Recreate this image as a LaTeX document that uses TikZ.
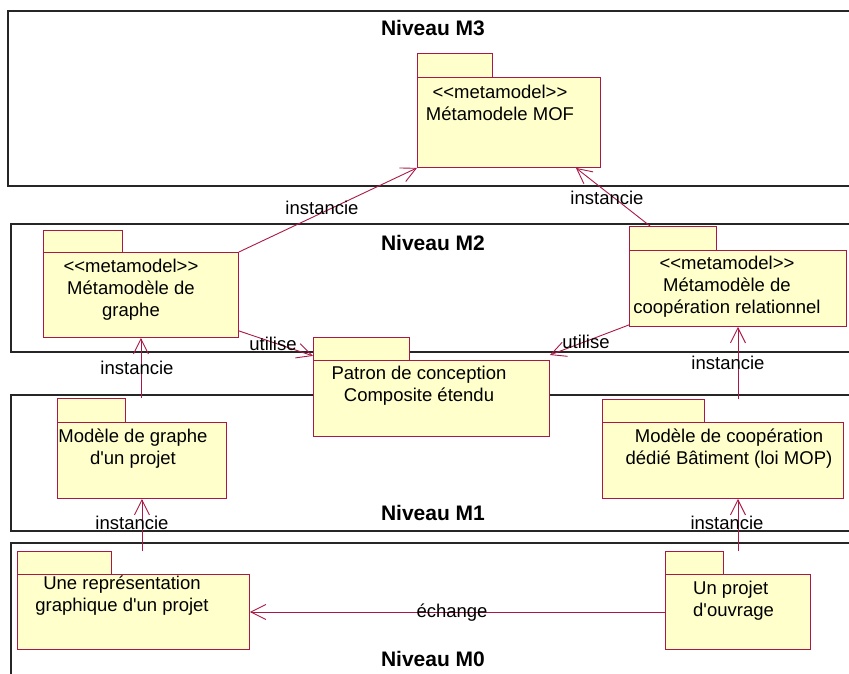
\documentclass[tikz,border=0pt]{standalone}
\usepackage{fontspec}
\usepackage{tikz}
\usetikzlibrary{arrows.meta}
\newfontfamily\umlfont{Liberation Sans}
\definecolor{umlred}{RGB}{170,25,70}
\definecolor{umlyellow}{RGB}{255,255,204}

\tikzset{
  level/.style={draw=black!85, line width=1.3pt},
  pkgtab/.style={draw=umlred, fill=umlyellow, line width=0.9pt, anchor=north west, inner sep=0pt},
  pkgbody/.style={draw=umlred, fill=umlyellow, line width=0.9pt, anchor=north west, inner sep=0pt},
  pkgtext/.style={align=center, inner sep=0pt, font=\umlfont\fontsize{18.5}{22}\selectfont},
  rel/.style={draw=umlred, line width=0.9pt, -{Straight Barb[length=15pt,width=15pt]}},
  lbl/.style={inner sep=0pt, font=\umlfont\fontsize{18.5}{22}\selectfont},
  title/.style={inner sep=0pt, font=\umlfont\bfseries\fontsize{21}{24}\selectfont},
}

\begin{document}
\begin{tikzpicture}[x=1pt, y=-1pt]
    \useasboundingbox (0, 0) rectangle (849, 673);
    % levels
    \draw[level] (8, 11) rectangle (870, 186);
    \draw[level] (11, 224) rectangle (870, 352);
    \draw[level] (11, 395) rectangle (870, 531);
    \draw[level] (11, 543) rectangle (870, 700);
    \node[title] (n3) at (433, 28) {Niveau M3};
    \node[title] (n2) at (433, 243) {Niveau M2};
    \node[title] (n1) at (433, 513) {Niveau M1};
    \node[title] (n0) at (433, 659) {Niveau M0};
    % M3 package
    \node[pkgtab, minimum width=75, minimum height=24] (moftab) at (417, 53) {};
    \node[pkgbody, minimum width=183, minimum height=90] (mof) at (417, 77) {};
    \node[pkgtext] (moftxt) at (500, 103) {{<}{<}metamodel{>}{>}\\Métamodele MOF};
    % M2 packages
    \node[pkgtab, minimum width=79, minimum height=22] (gmtab) at (43, 230) {};
    \node[pkgbody, minimum width=195, minimum height=85] (gm) at (43, 252) {};
    \node[pkgtext] (gmtxt) at (131, 290) {{<}{<}metamodel{>}{>}\\Métamodèle de\\graphe};
    \node[pkgtab, minimum width=87, minimum height=24] (cmtab) at (629, 226) {};
    \node[pkgbody, minimum width=217, minimum height=76] (cm) at (629, 250) {};
    \node[pkgtext] (cmtxt) at (727, 287) {{<}{<}metamodel{>}{>}\\Métamodèle de\\coopération relationnel};
    \node[pkgtab, minimum width=96, minimum height=23] (pctab) at (313, 337) {};
    \node[pkgbody, minimum width=236, minimum height=76] (pc) at (313, 360) {};
    \node[pkgtext] (pctxt) at (419, 386) {Patron de conception\\Composite étendu};
    % M1 packages
    \node[pkgtab, minimum width=68, minimum height=24] (mgtab) at (57, 398) {};
    \node[pkgbody, minimum width=169, minimum height=76] (mg) at (57, 422) {};
    \node[pkgtext] (mgtxt) at (133, 449) {Modèle de graphe\\d'un projet};
    \node[pkgtab, minimum width=102, minimum height=23] (cdtab) at (602, 399) {};
    \node[pkgbody, minimum width=241, minimum height=76] (cd) at (602, 422) {};
    \node[pkgtext] (cdtxt) at (729, 449) {Modèle de coopération\\dédié Bâtiment (loi MOP)};
    % M0 packages
    \node[pkgtab, minimum width=94, minimum height=23] (urtab) at (17, 551) {};
    \node[pkgbody, minimum width=232, minimum height=75] (ur) at (17, 574) {};
    \node[pkgtext] (urtxt) at (122, 596) {Une représentation\\graphique d'un projet};
    \node[pkgtab, minimum width=58, minimum height=23] (uptab) at (665, 551) {};
    \node[pkgbody, minimum width=145, minimum height=75] (up) at (665, 574) {};
    \node[pkgtext, align=left, anchor=west] (uptxt) at (693, 601) {Un projet\\d'ouvrage};
    % relations
    \draw[rel] (gm.north east) -- (mof.south west);
    \node[lbl] (i1) at (322, 208) {instancie};
    \draw[rel] ([xshift=21pt]cmtab.north west) -- ([xshift=-25pt]mof.south east);
    \node[lbl] (i2) at (607, 198) {instancie};
    \draw[rel] ([yshift=7pt]gm.south east) -- ([yshift=5pt]pctab.south west);
    \node[lbl] (u1) at (273, 344) {utilise};
    \draw[rel] ([yshift=2pt]cm.south west) -- ([yshift=5pt]pc.north east);
    \node[lbl] (u2) at (586, 342) {utilise};
    \draw[rel] (gm.south |- mgtab.north) -- (gm.south);
    \node[lbl] (i3) at (137, 368) {instancie};
    \draw[rel] (mg.south |- urtab.north) -- (mg.south);
    \node[lbl] (i4) at (132, 523) {instancie};
    \draw[rel] (cm.south |- cdtab.north) -- (cm.south);
    \node[lbl] (i5) at (728, 363) {instancie};
    \draw[rel] (up.north |- uptab.north) -- (up.north |- cd.south);
    \node[lbl] (i6) at (727, 523) {instancie};
    \draw[rel] (up.west) -- (ur.east);
    \node[lbl] (ech) at (452, 613) {échange};

\end{tikzpicture}
\end{document}
